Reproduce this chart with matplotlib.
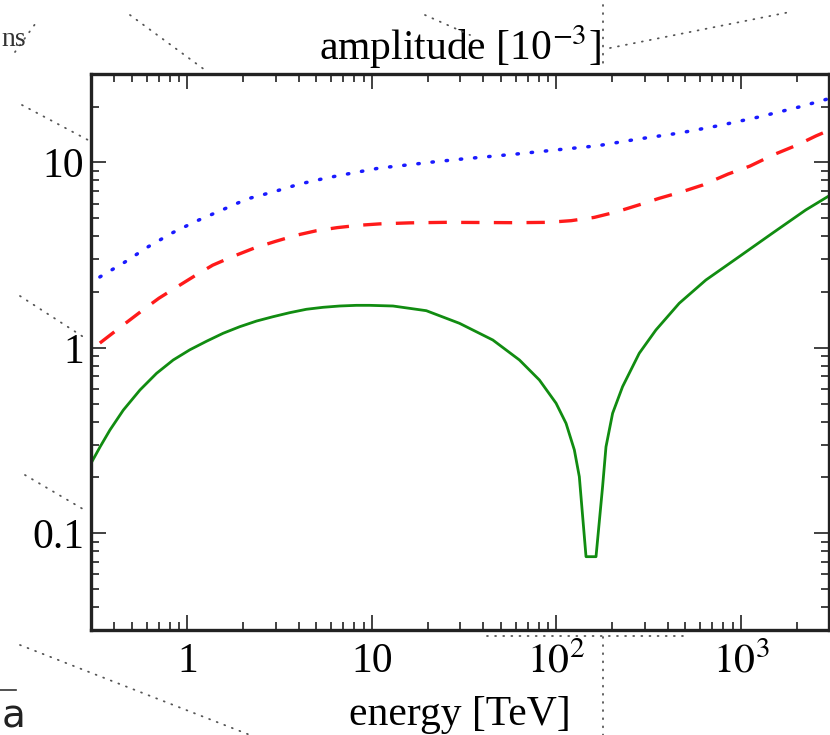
import numpy as np
import matplotlib
matplotlib.use("Agg")
from matplotlib import pyplot as plt
from matplotlib.lines import Line2D
from matplotlib.ticker import FixedLocator, FixedFormatter, LogLocator, NullFormatter

# energy [TeV] and amplitude [1e-3]
e_green = [0.30, 0.336, 0.380, 0.449, 0.553, 0.680, 0.837, 1.03, 1.27, 1.56, 1.92, 2.37, 2.91,
           3.58, 4.41, 5.43, 6.68, 8.23, 9.71, 13.0, 19.7, 29.8, 45.2, 63.0, 80.8, 99.5,
           112.7, 125.0, 133.0, 144.6, 163.8, 177.8, 185.5, 201.5, 228.2, 281.0, 345.9,
           462.7, 645.2, 977.0, 1480.0, 2244.0, 3000.0]
a_green = [0.238, 0.292, 0.360, 0.461, 0.592, 0.728, 0.859, 0.975, 1.085, 1.197, 1.299, 1.394,
           1.471, 1.546, 1.613, 1.653, 1.680, 1.694, 1.694, 1.680, 1.585, 1.355, 1.101, 0.859,
           0.670, 0.502, 0.391, 0.281, 0.2015, 0.0746, 0.0746, 0.178, 0.292, 0.443, 0.617,
           0.934, 1.247, 1.738, 2.32, 3.10, 4.15, 5.54, 6.6]

e_red = [0.335, 0.45, 0.574, 0.70, 0.877, 1.10, 1.37, 1.75, 2.30, 3.0, 3.9, 5.0, 6.5, 8.5,
         11.0, 16.0, 25.0, 40.0, 60.0, 90.0, 120.0, 160.0, 210.0, 280.0, 360.0, 480.0,
         620.0, 850.0, 1117.0, 1500.0, 2011.0, 2550.0, 3000.0]
a_red = [1.06, 1.33, 1.60, 1.85, 2.13, 2.45, 2.79, 3.10, 3.45, 3.75, 4.05, 4.28, 4.45, 4.58,
         4.66, 4.72, 4.75, 4.74, 4.73, 4.75, 4.85, 5.05, 5.40, 5.90, 6.40, 6.95,
         7.55, 8.65, 9.55, 11.0, 12.4, 13.9, 14.9]

e_blue = [0.335, 0.458, 0.61, 0.824, 1.12, 1.54, 2.10, 2.90, 4.06, 5.68, 7.85, 11.0, 15.4,
          21.3, 29.8, 60.6, 101.0, 167.0, 281.0, 463.0, 760.0, 1254.0, 2060.0, 3000.0]
a_blue = [2.41, 2.90, 3.50, 4.16, 4.83, 5.54, 6.35, 6.92, 7.65, 8.25, 8.77, 9.33, 9.68,
          10.05, 10.4, 11.1, 11.7, 12.3, 13.4, 14.4, 15.8, 17.6, 19.9, 22.1]

x_ticks = [1, 10, 100, 1000]
x_labels = ["1", "10", r"$10^2$", r"$10^3$"]
y_ticks = [0.1, 1, 10]
y_labels = ["0.1", "1", "10"]

plt.rcParams["font.family"] = ["Liberation Serif", "DejaVu Serif"]
plt.rcParams["mathtext.fontset"] = "stix"
plt.rcParams["font.size"] = 30

W, H = 830, 735
fig = plt.figure(figsize=(W / 100, H / 100), dpi=100)
ax = fig.add_axes([91 / W, 1 - 630 / H, 738 / W, 556 / H])

ax.plot(e_blue, a_blue, color="#1a1aff", lw=2.5, linestyle=(0, (0.4, 3.7)),
        dash_capstyle="round")
ax.plot(e_red, a_red, color="#ff1a1a", lw=2.4, linestyle=(0, (5.5, 4.3)))
ax.plot(e_green, a_green, color="#118c11", lw=2.0)

ax.set_xscale("log")
ax.set_yscale("log")
ax.set_xlim(0.3, 3000)
ax.set_ylim(0.03, 30)

ax.xaxis.set_major_locator(FixedLocator(x_ticks))
ax.xaxis.set_major_formatter(FixedFormatter(x_labels))
ax.yaxis.set_major_locator(FixedLocator(y_ticks))
ax.yaxis.set_major_formatter(FixedFormatter(y_labels))
for a in (ax.xaxis, ax.yaxis):
    a.set_minor_locator(LogLocator(base=10, subs=np.arange(2, 10), numticks=20))
    a.set_minor_formatter(NullFormatter())

ax.tick_params(which="both", direction="in", top=True, right=True, width=1.3, color="#333333")
ax.tick_params(axis="x", which="major", length=11, pad=9)
ax.tick_params(axis="y", which="major", length=11, pad=5)
ax.tick_params(which="minor", length=6)
for s in ax.spines.values():
    s.set_linewidth(2.4)
    s.set_color("#222222")

ax.set_title(r"amplitude [10$^{-3}$]", pad=10, fontsize=30)
ax.set_xlabel("energy [TeV]", labelpad=10)

# faint dotted leftovers from the page around the figure
dots = dict(color="#555555", lw=1.3, linestyle=(0, (0.5, 4)), dash_capstyle="round")
segs = [((15, 52), (38, 20)), ((130, 15), (205, 70)), ((425, 15), (470, 35)),
        ((610, 48), (790, 12)), ((603, 5), (603, 65)), ((22, 105), (88, 140)),
        ((20, 296), (85, 338)), ((25, 475), (88, 512)), ((20, 645), (250, 735)),
        ((603, 637), (603, 735)), ((487, 636), (690, 636))]
for (x0, y0), (x1, y1) in segs:
    fig.add_artist(Line2D([x0 / W, x1 / W], [1 - y0 / H, 1 - y1 / H], **dots))
fig.add_artist(Line2D([0, 16 / W], [1 - 690 / H, 1 - 690 / H], color="#333333", lw=1.2))
fig.text(1 / W, 1 - 46 / H, "ns", fontsize=20, color="#333333")
fig.text(2 / W, 1 - 728 / H, "a", fontsize=28, family="DejaVu Sans", color="#222222")

fig.savefig("out.png", dpi=100)
